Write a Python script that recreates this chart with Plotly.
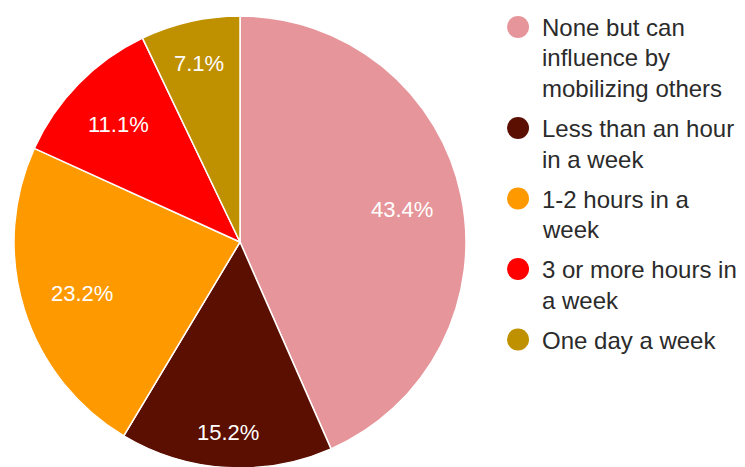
import math
import plotly.graph_objects as go

labels = [
    "None but can influence by mobilizing others",
    "Less than an hour in a week",
    "1-2 hours in a week",
    "3 or more hours in a week",
    "One day a week",
]
legend_lines = [
    ["None but can", "influence by", "mobilizing others"],
    ["Less than an hour", "in a week"],
    ["1-2 hours in a", "week"],
    ["3 or more hours in", "a week"],
    ["One day a week"],
]
values = [43.4, 15.2, 23.2, 11.1, 7.1]
colors = ["#e6969a", "#5b0f00", "#ff9900", "#ff0000", "#bf9000"]

W, H = 745, 467
OFF = 8  # page body margin: figure pixel = screen pixel - OFF
cx, cy, r = 240 - OFF, 242 - OFF, 226  # figure-pixel center / radius of pie


def px(x):
    return x / W


def py(y_from_top):
    return (H - y_from_top) / H


fig = go.Figure()
fig.add_trace(go.Pie(
    labels=labels,
    values=values,
    sort=False,
    direction="clockwise",
    rotation=0,
    marker=dict(colors=colors, line=dict(color="white", width=1.5)),
    textinfo="none",
    showlegend=False,
    hoverinfo="label+percent",
    domain=dict(x=[px(cx - r), px(cx + r)], y=[py(cy + r), py(cy - r)]),
))

annotations = []
shapes = []

# slice percentage labels, placed so the text box's outer edge sits near 0.88 r
lab_size = 22
total = sum(values)
cum = 0.0
for v in values:
    frac = v / total
    mid = (cum + frac / 2) * 2 * math.pi  # clockwise from 12 o'clock
    cum += frac
    txt = f"{frac * 100:.1f}%"
    tw = len(txt) * 0.58 * lab_size
    th = 0.75 * lab_size
    s, c = math.sin(mid), math.cos(mid)
    d = 0.88 * r - (abs(s) * tw / 2 + abs(c) * th / 2)
    x = cx + d * s
    y = cy - d * c
    annotations.append(dict(xref="paper", yref="paper", x=px(x), y=py(y + 2),
                            xanchor="center", yanchor="middle", text=txt, showarrow=False,
                            font=dict(family="Arial, Liberation Sans", size=lab_size, color="white")))

# manual legend with circle markers
font = dict(family="Arial, Liberation Sans", size=24, color="#2b2b2b")
line_h = 30.5
entry_gap = 40
bl = 37 - OFF  # first baseline, figure px from top
for lines, col in zip(legend_lines, colors):
    ccy = bl - 10
    ccx = 518 - OFF
    shapes.append(dict(type="circle", xref="paper", yref="paper",
                       x0=px(ccx - 11), x1=px(ccx + 11),
                       y0=py(ccy + 11), y1=py(ccy - 11),
                       fillcolor=col, line=dict(width=0)))
    for i, t in enumerate(lines):
        b = bl + i * line_h
        annotations.append(dict(xref="paper", yref="paper", x=px(542 - OFF - 2), y=py(b + 6),
                                xanchor="left", yanchor="bottom", text=t, showarrow=False,
                                font=font))
    bl += (len(lines) - 1) * line_h + entry_gap

fig.update_layout(
    width=W, height=H,
    margin=dict(l=0, r=0, t=0, b=0),
    paper_bgcolor="white",
    plot_bgcolor="white",
    shapes=shapes,
    annotations=annotations,
)
fig.write_html("out.html")
